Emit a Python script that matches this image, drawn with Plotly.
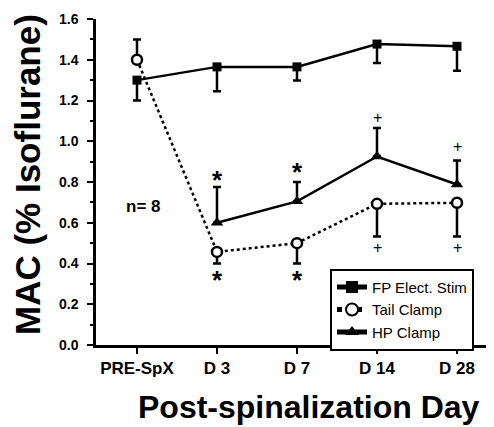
import plotly.graph_objects as go

categories = ["PRE-SpX", "D 3", "D 7", "D 14", "D 28"]
x_pos = [0, 1, 2, 3, 4]

fp_vals = [1.30, 1.365, 1.365, 1.477, 1.466]
fp_err_minus = [0.10, 0.12, 0.067, 0.093, 0.12]

tail_vals = [1.40, 0.457, 0.50, 0.693, 0.698]
tail_err_plus = [0.10, 0, 0, 0, 0]
tail_err_minus = [0, 0.057, 0.10, 0.16, 0.165]

hp_x = [1, 2, 3, 4]
hp_vals = [0.60, 0.705, 0.925, 0.788]
hp_err_plus = [0.175, 0.095, 0.14, 0.118]

font_family = "Liberation Sans, Arial, sans-serif"
fig = go.Figure()

fig.add_trace(go.Scatter(
    x=x_pos, y=fp_vals, name="FP Elect. Stim", mode="lines+markers",
    line=dict(color="black", width=2.5),
    marker=dict(symbol="square", size=9, color="black"),
    error_y=dict(type="data", symmetric=False, array=[0]*5, arrayminus=fp_err_minus,
                 color="black", thickness=2.5, width=4),
))
fig.add_trace(go.Scatter(
    x=x_pos, y=tail_vals, name="Tail Clamp", mode="lines+markers",
    line=dict(color="black", width=2.5, dash="dot"),
    marker=dict(symbol="circle", size=10, color="white", line=dict(color="black", width=2.5)),
    error_y=dict(type="data", symmetric=False, array=tail_err_plus, arrayminus=tail_err_minus,
                 color="black", thickness=2.5, width=4),
))
fig.add_trace(go.Scatter(
    x=hp_x, y=hp_vals, name="HP Clamp", mode="lines+markers",
    line=dict(color="black", width=2.5),
    marker=dict(symbol="triangle-up", size=11, color="black"),
    error_y=dict(type="data", symmetric=False, array=hp_err_plus, arrayminus=[0]*4,
                 color="black", thickness=2.5, width=4),
))

annotations = []
for (xx, yy) in [(1, 0.81), (2, 0.85), (1, 0.32), (2, 0.32)]:
    annotations.append(dict(x=xx, y=yy, text="<b>*</b>", showarrow=False,
                            font=dict(size=26, family=font_family, color="black")))
for (xx, yy) in [(3, 1.115), (4, 0.975), (3, 0.48), (4, 0.48)]:
    annotations.append(dict(x=xx, y=yy, text="+", showarrow=False,
                            font=dict(size=16, family=font_family, color="black")))
annotations.append(dict(x=0.08, y=0.68, text="<b>n= 8</b>", showarrow=False,
                        font=dict(size=17, family=font_family, color="black")))
# axis titles
annotations.append(dict(xref="paper", yref="paper", x=0.535, y=-0.19,
                        xanchor="center", yanchor="middle", showarrow=False,
                        text="<b>Post-spinalization Day</b>",
                        font=dict(size=32, family=font_family, color="black")))
annotations.append(dict(xref="paper", yref="paper", x=-0.1734, y=0.5245,
                        xanchor="center", yanchor="middle", showarrow=False, textangle=-90,
                        text="<b>MAC (% Isoflurane)</b>",
                        font=dict(size=35, family=font_family, color="black")))

fig.update_layout(
    width=486, height=419,
    margin=dict(l=88, r=0, t=11, b=82, autoexpand=False),
    plot_bgcolor="white", paper_bgcolor="white",
    font=dict(family=font_family, color="black"),
    showlegend=True,
    legend=dict(x=0.588, y=0.234, xanchor="left", yanchor="top",
                bordercolor="black", borderwidth=2, bgcolor="white",
                font=dict(size=15, family=font_family),
                tracegroupgap=0, itemsizing="constant"),
    annotations=annotations,
    xaxis=dict(range=[-0.5125, 4.4625], tickvals=x_pos, ticktext=categories,
               automargin=False,
               showline=True, linecolor="black", linewidth=2.5,
               ticks="outside", ticklen=6, tickwidth=2, tickcolor="black",
               showgrid=False, zeroline=False,
               tickfont=dict(size=17, family=font_family, weight="bold")),
    yaxis=dict(range=[0, 1.6], tickvals=[0, 0.2, 0.4, 0.6, 0.8, 1.0, 1.2, 1.4, 1.6],
               ticktext=["0.0", "0.2", "0.4", "0.6", "0.8", "1.0", "1.2", "1.4", "1.6"],
               automargin=False,
               showline=True, linecolor="black", linewidth=2.5,
               ticks="outside", ticklen=6, tickwidth=2, tickcolor="black",
               minor=dict(tickvals=[0.1, 0.3, 0.5, 0.7, 0.9, 1.1, 1.3, 1.5], ticks="outside",
                          ticklen=3, tickwidth=2, tickcolor="black"),
               showgrid=False, zeroline=False, ticklabelstandoff=6,
               tickfont=dict(size=14, family=font_family, weight="bold")),
)

fig.write_html("out.html")
